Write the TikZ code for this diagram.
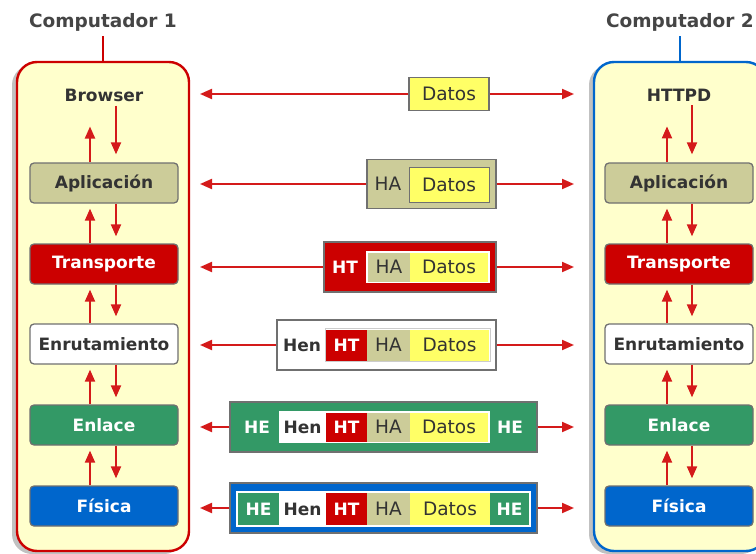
\documentclass[tikz,border=0pt]{standalone}
\usepackage{fontspec}
\setmainfont{DejaVu Sans}
\usetikzlibrary{arrows.meta,shadows}
\definecolor{netred}{HTML}{CC0000}
\definecolor{arrowred}{HTML}{D41A1A}
\definecolor{khaki}{HTML}{CCCC99}
\definecolor{datayel}{HTML}{FFFF66}
\definecolor{linkgreen}{HTML}{339966}
\definecolor{physblue}{HTML}{0066CC}
\definecolor{hostfill}{HTML}{FFFFCC}
\definecolor{txtgray}{HTML}{333333}
\definecolor{titlegray}{HTML}{454545}
\definecolor{edgegray}{HTML}{707070}
\begin{document}
\begin{tikzpicture}[x=1pt,y=-1pt,
  host/.style={rounded corners=20pt, line width=2.4pt, fill=hostfill,
    minimum width=172pt, minimum height=489pt, inner sep=0pt,
    drop shadow={shadow xshift=-5pt, shadow yshift=-3pt, fill=black!30, opacity=0.8}},
  hosttitle/.style={font=\fontsize{18.5}{22}\selectfont\bfseries, text=titlegray, inner sep=2pt},
  layer/.style={draw=edgegray, line width=1.3pt, rounded corners=4pt,
    minimum width=148pt, minimum height=40pt, inner sep=0pt,
    font=\fontsize{17}{20}\selectfont\bfseries},
  app/.style={font=\fontsize{17}{20}\selectfont\bfseries, text=txtgray, inner sep=3pt},
  pk/.style={draw=edgegray, line width=1.3pt, inner sep=0pt},
  cell/.style={inner sep=0pt, font=\fontsize{18.5}{20}\selectfont, text=txtgray},
  lbl/.style={inner sep=0pt, font=\fontsize{18.5}{20}\selectfont, text=txtgray},
  blbl/.style={inner sep=0pt, font=\fontsize{17}{20}\selectfont\bfseries},
  bcell/.style={inner sep=0pt, text=white, font=\fontsize{17}{20}\selectfont\bfseries},
  harrow/.style={draw=arrowred, line width=2pt, -{Triangle[length=12pt,width=10pt]}},
  varrow/.style={draw=arrowred, line width=2pt, -{Triangle[length=12pt,width=10pt]}}
]
\useasboundingbox (0,0) rectangle (756,554);
\clip (0,0) rectangle (756,554);
\fill[white] (0,0) rectangle (756,554);

% the two hosts and their titles
\node[host, draw=netred] (h1) at (103,306.5) {};
\node[host, draw=physblue] (h2) at (680,306.5) {};
\node[hosttitle] (c1) at (103,22) {Computador 1};
\node[hosttitle] (c2) at (680,22) {Computador 2};
\draw[netred, line width=1.5pt, shorten <=3pt] (c1.south) -- (h1.north);
\draw[physblue, line width=1.5pt, shorten <=3pt] (c2.south) -- (h2.north);

% protocol stacks
\foreach \s/\cx/\u/\d/\top in {1/104/90/116/Browser, 2/679/667/692/HTTPD} {
  \coordinate (u\s) at (\u,0);
  \coordinate (d\s) at (\d,0);
  \node[app] (b\s) at (\cx,95) {\top};
  \node[layer, fill=khaki, text=txtgray] (a\s) at (\cx,183) {Aplicación};
  \node[layer, fill=netred, text=white] (t\s) at (\cx,264) {Transporte};
  \node[layer, fill=white, text=txtgray] (e\s) at (\cx,344) {Enrutamiento};
  \node[layer, fill=linkgreen, text=white] (k\s) at (\cx,425) {Enlace};
  \node[layer, fill=physblue, text=white] (f\s) at (\cx,506) {Física};
  \draw[varrow, shorten >=22pt] (a\s.north -| u\s) -- (b\s.south -| u\s);
  \draw[varrow, shorten <=1pt, shorten >=8pt] (b\s.south -| d\s) -- (a\s.north -| d\s);
  \foreach \lo/\hi in {t/a, e/t, k/e, f/k} {
    \draw[varrow, shorten >=5pt] (\lo\s.north -| u\s) -- (\hi\s.south -| u\s);
    \draw[varrow, shorten >=7pt] (\hi\s.south -| d\s) -- (\lo\s.north -| d\s);
  }
}

% row 1: data only
\node[pk, fill=datayel, minimum width=80pt, minimum height=33pt, font=\fontsize{18.5}{20}\selectfont, text=txtgray] (p1) at (449,94) {Datos};

% row 2: application header
\node[pk, fill=khaki, minimum width=129pt, minimum height=49pt] (p2) at (431.5,184) {};
\node[draw=edgegray, line width=1pt, inner sep=0pt, fill=datayel, minimum width=80pt, minimum height=35pt, font=\fontsize{18.5}{20}\selectfont, text=txtgray] at (449,184.5) {Datos};
\node[lbl] at (388,184) {HA};

% row 3: transport header
\node[pk, fill=netred, minimum width=172pt, minimum height=50pt] (p3) at (410,267) {};
\node[fill=white, minimum width=124pt, minimum height=32pt, inner sep=0pt] at (428,267) {};
\node[cell, fill=khaki, minimum width=42pt, minimum height=29pt] at (389,267) {HA};
\node[cell, fill=datayel, minimum width=78pt, minimum height=29pt] at (449,267) {Datos};
\node[blbl, text=white] at (345,267) {HT};

% row 4: routing header
\node[pk, fill=white, minimum width=219pt, minimum height=50pt] (p4) at (386.5,345) {};
\node[draw=black!20, fill=white, minimum width=165pt, minimum height=33pt, inner sep=0pt] at (407.5,345) {};
\node[bcell, fill=netred, minimum width=41pt, minimum height=31pt] at (346.5,345) {HT};
\node[cell, fill=khaki, minimum width=43pt, minimum height=31pt] at (388.5,345) {HA};
\node[cell, fill=datayel, minimum width=79pt, minimum height=31pt] at (449.5,345) {Datos};
\node[blbl, text=txtgray] at (302,345) {Hen};

% row 5: link header and trailer
\node[pk, fill=linkgreen, minimum width=307pt, minimum height=50pt] (p5) at (383.5,427) {};
\node[fill=white, minimum width=211pt, minimum height=32pt, inner sep=0pt] at (384.5,427) {};
\node[bcell, fill=netred, minimum width=41pt, minimum height=29pt] at (346.5,427) {HT};
\node[cell, fill=khaki, minimum width=43pt, minimum height=29pt] at (388.5,427) {HA};
\node[cell, fill=datayel, minimum width=78pt, minimum height=29pt] at (449,427) {Datos};
\node[blbl, text=txtgray] at (302.5,427) {Hen};
\node[blbl, text=white] at (257,427) {HE};
\node[blbl, text=white] at (510,427) {HE};

% row 6: physical frame
\node[pk, fill=physblue, minimum width=307pt, minimum height=50pt] (p6) at (383.5,508) {};
\node[fill=white, minimum width=295pt, minimum height=36pt, inner sep=0pt] at (383.5,508.5) {};
\node[bcell, fill=linkgreen, minimum width=41pt, minimum height=32pt] at (258.5,509) {HE};
\node[blbl, text=txtgray] at (302.5,509) {Hen};
\node[bcell, fill=netred, minimum width=41pt, minimum height=32pt] at (346.5,509) {HT};
\node[cell, fill=khaki, minimum width=43pt, minimum height=32pt] at (388.5,509) {HA};
\node[cell, fill=datayel, minimum width=80pt, minimum height=32pt] at (450,509) {Datos};
\node[bcell, fill=linkgreen, minimum width=39pt, minimum height=32pt] at (509.5,509) {HE};

% peer-to-peer arrows at each level
\foreach \r/\y in {1/94, 2/184, 3/267, 4/345, 5/427, 6/508} {
  \coordinate (l\r) at (200,\y);
  \coordinate (r\r) at (574,\y);
  \draw[harrow] (p\r.west) -- (l\r);
  \draw[harrow] (p\r.east) -- (r\r);
}
\end{tikzpicture}
\end{document}
